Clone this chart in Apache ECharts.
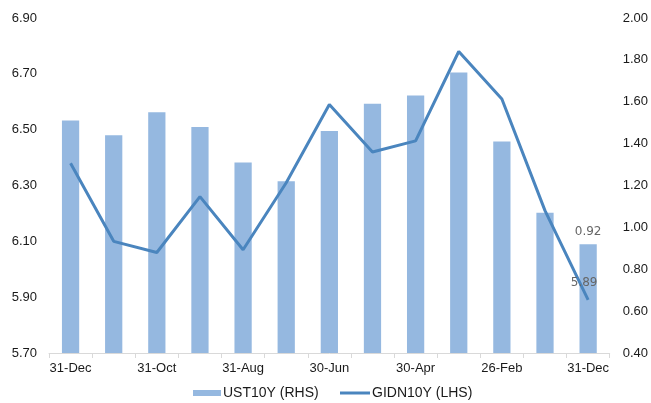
<!DOCTYPE html>
<html>
<head>
<meta charset="utf-8">
<script src="https://cdn.jsdelivr.net/npm/echarts@6/dist/echarts.min.js"></script>
<style>
  html, body { margin: 0; padding: 0; background: #fff; }
  #chart { width: 651px; height: 403px; }
</style>
</head>
<body>
<div id="chart"></div>
<script>
// categories (month ends, newest first as in the source)
var categories = ['31-Dec', '30-Nov', '31-Oct', '30-Sep', '31-Aug', '31-Jul', '30-Jun',
                  '31-May', '30-Apr', '31-Mar', '26-Feb', '31-Jan', '31-Dec'];
// UST10Y, right axis
var ust10y = [1.51, 1.44, 1.55, 1.48, 1.31, 1.22, 1.46, 1.59, 1.63, 1.74, 1.41, 1.07, 0.92];
// GIDN10Y, left axis
var gidn10y = [6.38, 6.10, 6.06, 6.26, 6.07, 6.31, 6.59, 6.42, 6.46, 6.78, 6.61, 6.21, 5.89];

var font = 'Liberation Sans, Arial, sans-serif';
var lastLabel = {
    show: true, position: 'top',
    fontFamily: 'DejaVu Sans, sans-serif', fontSize: 12, color: '#666',
    formatter: function (p) { return p.value.toFixed(2); }
};

var myChart = echarts.init(document.getElementById('chart'));

var option = {
    animation: false,
    grid: { left: 49, right: 40, top: 18, bottom: 50 },
    legend: [{
        data: ['UST10Y (RHS)'],
        left: 193, top: 386, padding: 0,
        itemWidth: 28, itemHeight: 6, itemGap: 0,
        icon: 'rect',
        textStyle: { fontFamily: font, fontSize: 14, color: '#1a1a1a', padding: [0, 0, 0, -3] }
    }, {
        data: ['GIDN10Y (LHS)'],
        left: 340, top: 386, padding: 0,
        itemWidth: 30, itemHeight: 3, itemGap: 0,
        icon: 'rect',
        textStyle: { fontFamily: font, fontSize: 14, color: '#1a1a1a', padding: [0, 0, 0, -3] }
    }],
    xAxis: {
        type: 'category',
        data: categories,
        boundaryGap: true,
        axisLine: { lineStyle: { color: '#d9d9d9', width: 1 } },
        axisTick: { show: true, interval: 0, length: 5, lineStyle: { color: '#d9d9d9' } },
        axisLabel: { interval: 1, margin: 9, fontFamily: font, fontSize: 13, color: '#1a1a1a' },
        splitLine: { show: false }
    },
    yAxis: [{
        type: 'value',
        min: 5.7, max: 6.9, interval: 0.2,
        axisLine: { show: false },
        axisTick: { show: false },
        splitLine: { show: false },
        axisLabel: {
            margin: 12, fontFamily: font, fontSize: 13, color: '#1a1a1a',
            formatter: function (v) { return v.toFixed(2); }
        }
    }, {
        type: 'value',
        min: 0.4, max: 2.0, interval: 0.2,
        axisLine: { show: false },
        axisTick: { show: false },
        splitLine: { show: false },
        axisLabel: {
            margin: 13, fontFamily: font, fontSize: 13, color: '#1a1a1a',
            formatter: function (v) { return v.toFixed(2); }
        }
    }],
    series: [{
        name: 'UST10Y (RHS)',
        type: 'bar',
        yAxisIndex: 1,
        barWidth: '40%',
        itemStyle: { color: '#95b8e0' },
        data: ust10y.map(function (v, i) {
            if (i === ust10y.length - 1) {
                return { value: v, label: Object.assign({ distance: 6 }, lastLabel) };
            }
            return v;
        })
    }, {
        name: 'GIDN10Y (LHS)',
        type: 'line',
        yAxisIndex: 0,
        showSymbol: true,
        symbol: 'circle',
        symbolSize: 0,
        lineStyle: { color: '#4a85be', width: 3 },
        itemStyle: { color: '#4a85be' },
        data: gidn10y.map(function (v, i) {
            if (i === gidn10y.length - 1) {
                return { value: v, label: Object.assign({ distance: 11, offset: [-4, 0] }, lastLabel) };
            }
            return v;
        })
    }]
};

myChart.setOption(option);
</script>
</body>
</html>
